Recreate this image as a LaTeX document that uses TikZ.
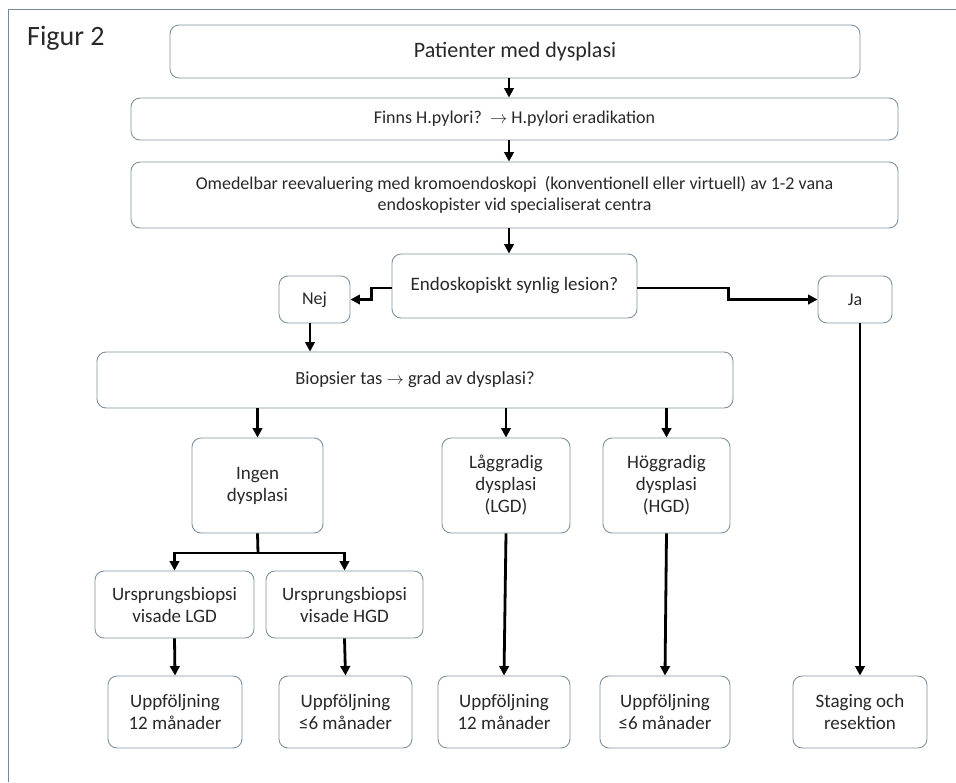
\documentclass[tikz,border=0pt]{standalone}
\usepackage{fontspec}
\setmainfont{Carlito}
\usepackage{xcolor}
\usetikzlibrary{arrows.meta}
\definecolor{boxgray}{RGB}{128,146,160}
\definecolor{framegray}{RGB}{120,138,152}
\definecolor{txt}{RGB}{40,40,40}

\begin{document}
\begin{tikzpicture}[x=1pt,y=-1pt,
  box/.style={draw=boxgray,line width=0.9pt,rounded corners=9pt,align=center,
    text=txt,inner sep=0pt,font=\fontsize{19}{22}\selectfont},
  ln/.style={line width=2.8pt},
  arr/.style={line width=2.8pt,-{Triangle[length=9.5pt,width=9.5pt]}}]
\useasboundingbox (0,0) rectangle (956,782);
\draw[framegray,line width=1pt](8,782)--(8,9)--(956,9);
\node[anchor=base west,inner sep=0pt,text=txt,font=\fontsize{28}{30}\selectfont](fig) at (27,45){Figur 2};

% top part
\node[box,minimum width=690pt,minimum height=53pt,font=\fontsize{22}{26}\selectfont](pat) at (515,51.5){Patienter med dysplasi};
\node[box,minimum width=767pt,minimum height=42pt,font=\fontsize{18}{21}\selectfont](hp) at (514.5,119){Finns H.pylori?~~$\rightarrow$ H.pylori eradikation};
\node[box,minimum width=767pt,minimum height=66pt,font=\fontsize{18}{21}\selectfont](omed) at (514.5,195){Omedelbar reevaluering med kromoendoskopi~~(konventionell eller virtuell) av 1-2 vana\\endoskopister vid specialiserat centra};
\node[box,minimum width=245pt,minimum height=64pt](les) at (514.5,286){Endoskopiskt synlig lesion?};
\node[box,minimum width=71pt,minimum height=47pt,font=\fontsize{18}{21}\selectfont](nej) at (314.5,299.5){Nej};
\node[box,minimum width=74pt,minimum height=47pt,font=\fontsize{18}{21}\selectfont](ja) at (855,299.5){Ja};
\node[box,minimum width=636pt,minimum height=56pt,font=\fontsize{18.5}{22}\selectfont](bio) at (415,380){Biopsier tas $\rightarrow$ grad av dysplasi?};

% grad av dysplasi
\node[box,minimum width=131pt,minimum height=95pt](ingen) at (257.5,485.5){Ingen\\dysplasi};
\node[box,minimum width=128pt,minimum height=95pt](lag) at (506,485.5){Låggradig\\dysplasi\\(LGD)};
\node[box,minimum width=127pt,minimum height=95pt](hog) at (666.5,485.5){Höggradig\\dysplasi\\(HGD)};
\node[box,minimum width=159pt,minimum height=67pt](ulgd) at (174.5,604.5){Ursprungsbiopsi\\visade LGD};
\node[box,minimum width=157pt,minimum height=67pt](uhgd) at (344.5,604.5){Ursprungsbiopsi\\visade HGD};

% uppfoljning
\node[box,minimum width=134pt,minimum height=72pt](up1) at (175,712){Uppföljning\\12 månader};
\node[box,minimum width=133pt,minimum height=72pt](up2) at (345.5,712){Uppföljning\\≤6 månader};
\node[box,minimum width=132pt,minimum height=72pt](up3) at (504,712){Uppföljning\\12 månader};
\node[box,minimum width=130pt,minimum height=72pt](up4) at (665,712){Uppföljning\\≤6 månader};
\node[box,minimum width=134pt,minimum height=72pt](stag) at (860,712){Staging och\\resektion};

% connectors
\coordinate(xa) at (509,0);
\coordinate(xn) at (310,0);
\coordinate(fk) at (258,553);
\draw[arr](pat.south -| xa)--(hp.north -| xa);
\draw[arr](hp.south -| xa)--(omed.north -| xa);
\draw[arr](omed.south -| xa)--(les.north -| xa);
\draw[arr]([yshift=-2pt]les.west)--++(-20,0)|-(nej.east);
\draw[arr]([yshift=-2pt]les.east)--++(91,0)|-(ja.west);
\draw[arr](nej.south -| xn)--(bio.north -| xn);
\draw[arr](bio.south -| ingen)--(ingen.north);
\draw[arr](bio.south -| lag)--(lag.north);
\draw[arr](bio.south -| hog)--(hog.north);
\draw[ln](ingen.south)--(fk);
\draw[arr](fk)-|(ulgd.north);
\draw[arr](fk)-|(uhgd.north);
\draw[arr](ulgd.south)--(up1.north);
\draw[arr](uhgd.south)--(up2.north);
\draw[arr](lag.south)--(up3.north);
\draw[arr](hog.south)--(up4.north);
\draw[arr](ja.south -| stag)--(stag.north);
\end{tikzpicture}
\end{document}
